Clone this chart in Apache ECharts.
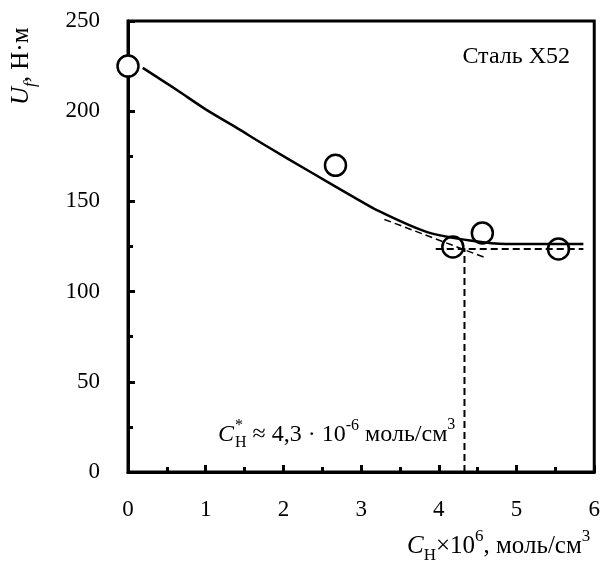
<!DOCTYPE html>
<html><head><meta charset="utf-8">
<script src="https://cdn.jsdelivr.net/npm/echarts@6/dist/echarts.min.js"></script>
<style>html,body{margin:0;padding:0;background:#fff}#c{width:603px;height:563px}</style>
</head><body><div id="c"></div>
<script>
// Data
var xTicks = [0, 1, 2, 3, 4, 5, 6];
var yTicks = [0, 50, 100, 150, 200, 250];
var pointsX = [0.0, 2.67, 4.18, 4.56, 5.54];
var pointsY = [225, 170, 124.7, 132.5, 123.6];
var curveX = [0.19, 0.62, 1.0, 1.39, 1.77, 2.36, 2.96, 3.21, 3.85, 4.45, 4.87, 5.86];
var curveY = [224, 212, 201, 191, 181, 166, 151, 145, 133, 128, 126.4, 126.4];
var hDashX = [3.96, 5.86];
var hDashY = [123.6, 123.6];
var tangentX = [3.3, 4.61];
var tangentY = [140.0, 118.6];
var vDashX = [4.33, 4.33];
var vDashY = [0, 124];

var FONT = '"Liberation Serif", "Times New Roman", serif';
var ctx = document.createElement('canvas').getContext('2d');
function measure(t, size, italic) {
  ctx.font = (italic ? 'italic ' : '') + size + 'px ' + FONT;
  return ctx.measureText(t).width;
}
function runs(x0, base, pieces) {
  var out = [], x = x0;
  pieces.forEach(function (p) {
    if (p.stack) {
      var w = 0;
      p.stack.forEach(function (q) {
        out.push(mk(x, base + q.dy, q));
        w = Math.max(w, measure(q.t, q.s, q.it));
      });
      x += w + (p.gap || 0);
    } else {
      out.push(mk(x, base + (p.dy || 0), p));
      x += measure(p.t, p.s, p.it) + (p.gap || 0);
    }
  });
  return out;
}
function mk(x, baseline, p) {
  return {
    type: 'text', x: x, y: baseline - 0.34 * p.s, silent: true, z: 10,
    style: {
      text: p.t, fill: '#000',
      font: (p.it ? 'italic ' : '') + p.s + 'px ' + FONT,
      textAlign: 'left', textVerticalAlign: 'middle'
    }
  };
}
function pairs(xs, ys) { return xs.map(function (v, i) { return [v, ys[i]]; }); }

var annot = runs(218, 443, [
  { t: 'C', s: 24, it: true, gap: 1 },
  { stack: [{ t: '*', s: 16, dy: -12 }, { t: 'Н', s: 16, dy: 5 }], gap: 0 },
  { t: ' ≈ 4,3 · 10', s: 24 },
  { t: '-6', s: 16, dy: -12 },
  { t: ' моль/см', s: 24 },
  { t: '3', s: 16, dy: -13 }
]);
var xTitle = runs(407, 555, [
  { t: 'C', s: 25, it: true },
  { t: 'Н', s: 17, dy: 6 },
  { t: '×10', s: 25 },
  { t: '6', s: 17, dy: -13 },
  { t: ', моль/см', s: 25 },
  { t: '3', s: 17, dy: -13 }
]);
var yTitle = runs(0, 0, [
  { t: 'U', s: 25, it: true },
  { t: 'f', s: 17, it: true, dy: 6 },
  { t: ', Н·м', s: 25 }
]);

var chart = echarts.init(document.getElementById('c'), null, { renderer: 'canvas' });
var axisLbl = { color: '#000', fontFamily: FONT, fontSize: 23 };
chart.setOption({
  animation: false,
  backgroundColor: '#fff',
  grid: { left: 128, right: 4, top: 21, bottom: 91, show: true, borderColor: '#000', borderWidth: 3, backgroundColor: 'transparent' },
  xAxis: {
    type: 'value', min: xTicks[0], max: xTicks[xTicks.length - 1], interval: 1,
    axisLine: { lineStyle: { color: '#000', width: 3 } },
    axisTick: { inside: true, length: 7, lineStyle: { color: '#000', width: 3 } },
    minorTick: { show: true, splitNumber: 2, length: 5, lineStyle: { color: '#000', width: 3 } },
    splitLine: { show: false },
    axisLabel: Object.assign({ margin: 26 }, axisLbl)
  },
  yAxis: {
    type: 'value', min: yTicks[0], max: yTicks[yTicks.length - 1], interval: 50,
    axisLine: { lineStyle: { color: '#000', width: 3 } },
    axisTick: { inside: true, length: 7, lineStyle: { color: '#000', width: 3 } },
    minorTick: { show: true, splitNumber: 2, length: 5, lineStyle: { color: '#000', width: 3 } },
    splitLine: { show: false },
    axisLabel: Object.assign({ margin: 28 }, axisLbl)
  },
  series: [
    { type: 'scatter', data: pairs(pointsX, pointsY), symbol: 'circle', symbolSize: 21,
      itemStyle: { color: '#fff', borderColor: '#000', borderWidth: 2.5, opacity: 1 }, z: 3 },
    { type: 'line', data: pairs(curveX, curveY), smooth: 0.3, symbol: 'none', lineStyle: { color: '#000', width: 2.5 }, z: 4 },
    { type: 'line', data: pairs(hDashX, hDashY), symbol: 'none', lineStyle: { color: '#000', width: 2, type: [7, 4] }, z: 4 },
    { type: 'line', data: pairs(tangentX, tangentY), symbol: 'none', lineStyle: { color: '#000', width: 1.5, type: [7, 4] }, z: 4 },
    { type: 'line', data: pairs(vDashX, vDashY), symbol: 'none', lineStyle: { color: '#000', width: 2, type: [7, 4] }, z: 4 }
  ],
  graphic: [
    { type: 'text', x: 570, y: 57, silent: true, style: { text: 'Сталь X52', font: '24px ' + FONT, fill: '#000', textAlign: 'right', textVerticalAlign: 'middle' } },
    { type: 'group', x: 30, y: 105, rotation: Math.PI / 2, children: yTitle }
  ].concat(annot).concat(xTitle)
});
</script></body></html>
